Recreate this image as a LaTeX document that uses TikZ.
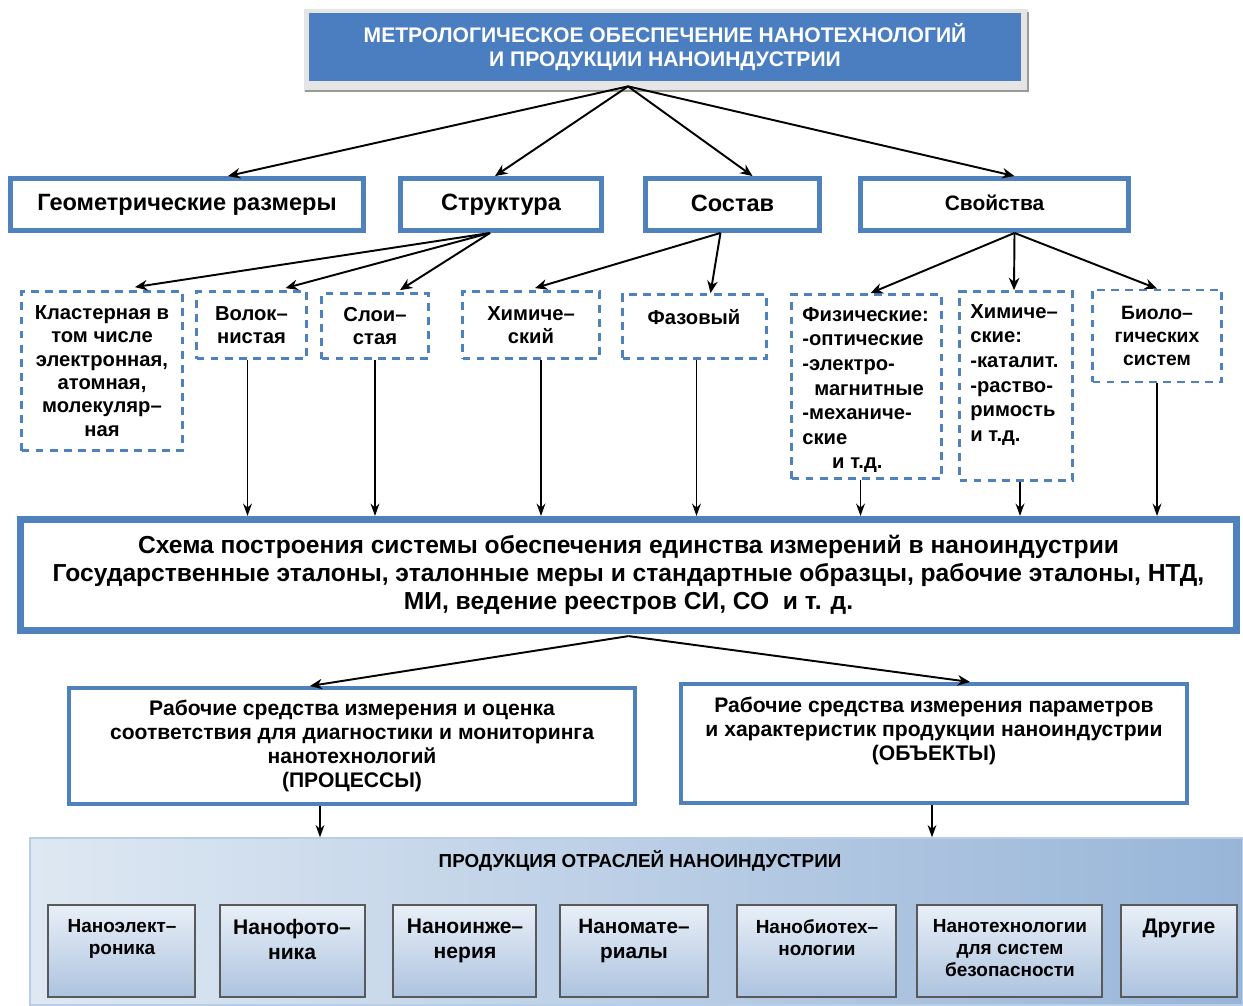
\documentclass[tikz,border=0pt]{standalone}
\usepackage{fontspec}
\setmainfont{Liberation Sans}
\usetikzlibrary{arrows.meta,calc}

\definecolor{boxblue}{RGB}{79,129,189}
\definecolor{titleblue}{RGB}{74,126,193}
\definecolor{panelL}{RGB}{222,232,243}
\definecolor{panelR}{RGB}{152,181,216}
\definecolor{cellT}{RGB}{233,239,247}
\definecolor{cellB}{RGB}{172,195,223}

\tikzset{
  wh/.style 2 args={minimum width=#1*0.02cm, minimum height=#2*0.02cm},
  solidbox/.style={draw=boxblue, line width=2.8pt, fill=white, inner sep=0pt,
    font=\bfseries\fontsize{13.4}{15}\selectfont},
  dashbox/.style={draw=boxblue, line width=1.6pt, dash pattern=on 4.5pt off 3.5pt,
    inner sep=0pt, align=center, font=\bfseries\fontsize{11.5}{13.3}\selectfont},
  listtxt/.style={inner sep=0pt, align=left, font=\bfseries\fontsize{11.5}{14}\selectfont},
  framebox/.style={draw=boxblue, line width=2.3pt, fill=white, inner sep=0pt, align=center,
    font=\bfseries\fontsize{12}{13.6}\selectfont},
  cell/.style={draw=black!65, line width=0.9pt, top color=cellT, bottom color=cellB, inner sep=0pt},
  celltxt/.style={inner sep=0pt, align=center, anchor=north},
  arr/.style={-{Stealth[length=7pt,width=6pt]}, line width=1.1pt},
  varr/.style={-{Stealth[length=7pt,width=5pt]}, line width=1pt},
}

\begin{document}
\begin{tikzpicture}[x=0.02cm, y=-0.02cm]

    \useasboundingbox (0,0) rectangle (1243,1005);

    % заголовок
    \fill[black!10] (304,9) rectangle (1028,92);
    \draw[black!40, line width=1pt] (305,91) -- (1028,91) -- (1028,12);
    \node[fill=titleblue, wh={712}{68}, text=white, align=center,
      font=\bfseries\fontsize{12}{14}\selectfont] (title) at (665,47)
      {МЕТРОЛОГИЧЕСКОЕ ОБЕСПЕЧЕНИЕ НАНОТЕХНОЛОГИЙ\\И ПРОДУКЦИИ НАНОИНДУСТРИИ};
    \coordinate (tfork) at ($(title.south)+(-37,5)$);

    % первый уровень
    \node[solidbox, wh={353}{52}] (geom) at (187,204.5) {Геометрические размеры};
    \node[solidbox, wh={201}{52}] (struct) at (501,204.5) {Структура};
    \node[solidbox, wh={174}{52}] (sost) at (732.5,204.5) {\raisebox{1pt}{Состав}};
    \node[solidbox, wh={268}{52}, font=\bfseries\fontsize{11.9}{14}\selectfont] (svoi) at (994.5,204.5)
      {\raisebox{2pt}{Свойства}};

    \draw[arr] (tfork) -- ($(geom.north)+(41,0)$);
    \draw[arr] (tfork) -- ($(struct.north)+(-6,0)$);
    \draw[arr] (tfork) -- ($(sost.north)+(20,0)$);
    \draw[arr] (tfork) -- ($(svoi.north)+(20,0)$);

    % второй уровень
    \node[dashbox, wh={161}{159}] (klast) at (102,371)
      {Кластерная в\\том числе\\электронная,\\атомная,\\молекуляр–\\ная};
    \node[dashbox, wh={110}{67}] (volok) at (251.5,325) {Волок–\\нистая};
    \node[dashbox, wh={107}{65}] (sloi) at (375,326) {Слои–\\стая};
    \node[dashbox, wh={137}{67}] (himS) at (531,325) {Химиче–\\ский};
    \node[dashbox, wh={144}{64}] (faz) at (694.5,326.5) {};
    \node[dashbox, anchor=north, draw=none] (fazT) at (694,308) {Фазовый};
    \node[dashbox, wh={150}{184}] (fiz) at (866.5,386.5) {};
    \node[listtxt, anchor=north west] (fizT) at (802,307)
      {Физические:\\-оптические\\-электро-\\\hspace*{6.8pt}магнитные\\-механиче-\\ские\\\hspace*{17pt}и т.д.};
    \node[dashbox, wh={113}{189}] (himP) at (1016,386) {};
    \node[listtxt, anchor=north west] (himPT) at (970,304)
      {Химиче–\\ские:\\-каталит.\\-раство-\\римость\\и т.д.};
    \node[dashbox, wh={129}{92}, font=\bfseries\fontsize{11}{13.3}\selectfont] (bio) at (1157,336)
      {Биоло–\\гических\\систем};

    \coordinate (sfork) at ($(struct.south)+(-11,0)$);
    \draw[arr] (sfork) -- ($(klast.north)+(33,-3)$);
    \draw[arr] (sfork) -- ($(volok.north)+(34,-2)$);
    \draw[arr] (sfork) -- ($(sloi.north)+(25,-2)$);
    \coordinate (cfork) at ($(sost.south)+(-12,0)$);
    \draw[arr] (cfork) -- ($(himS.north)+(4,-2)$);
    \draw[arr] (cfork) -- ($(faz.north)+(16,0)$);
    \coordinate (pfork) at ($(svoi.south)+(20,0)$);
    \draw[arr] (pfork) -- ($(fiz.north)+(4,0)$);
    \draw[arr] (pfork) -- ($(himP.north)+(-2,0)$);
    \draw[arr] (pfork) -- (bio.north);

    % схема
    \node[draw=boxblue, line width=3.5pt, fill=white, wh={1217}{112}, inner sep=0pt, align=center,
      font=\bfseries\fontsize{14}{15.9}\selectfont] (schema) at (628.5,575)
      {Схема построения системы обеспечения единства измерений в наноиндустрии\\
       Государственные эталоны, эталонные меры и стандартные образцы, рабочие эталоны, НТД,\\
       МИ, ведение реестров СИ, СО\ \ и т. д.};
    \draw[boxblue, line width=0.8pt] ($(schema.north west)+(6,6)$) rectangle ($(schema.south east)+(-6,-6)$);

    \coordinate (v1) at ($(volok.south)+(-4,0)$);
    \coordinate (v2) at (sloi.south);
    \coordinate (v3) at ($(himS.south)+(10,0)$);
    \coordinate (v4) at ($(faz.south)+(2,0)$);
    \coordinate (v5) at ($(fiz.south)+(-6,0)$);
    \coordinate (v6) at ($(himP.south)+(4,0)$);
    \coordinate (v7) at (bio.south);
    \draw[varr] (v1) -- (v1 |- schema.north);
    \draw[varr] (v2) -- (v2 |- schema.north);
    \draw[varr] (v3) -- (v3 |- schema.north);
    \draw[varr] (v4) -- (v4 |- schema.north);
    \draw[varr] (v5) -- (v5 |- schema.north);
    \draw[varr] (v6) -- (v6 |- schema.north);
    \draw[varr] (v7) -- (v7 |- schema.north);

    % процессы и объекты
    \node[framebox, wh={566}{116}] (proc) at (352,746)
      {Рабочие средства измерения и оценка\\соответствия для диагностики и мониторинга\\нанотехнологий\\(ПРОЦЕССЫ)};
    \node[framebox, wh={506}{119}] (obj) at (934,743.5) {};
    \node[framebox, draw=none, fill=none, anchor=north] (objT) at (934,695)
      {Рабочие средства измерения параметров\\и характеристик продукции наноиндустрии\\(ОБЪЕКТЫ)};

    \coordinate (mfork) at ($(schema.south)+(0,2)$);
    \draw[arr] (mfork) -- ($(proc.north)+(-42,0)$);
    \draw[arr] (mfork) -- ($(obj.north)+(36,0)$);

    % продукция
    \node[left color=panelL, right color=panelR, draw=boxblue!40, line width=0.8pt,
      wh={1213}{167}, inner sep=0pt] (panel) at (636.5,921.5) {};
    \node[inner sep=0pt, font=\bfseries\fontsize{10.7}{12}\selectfont] (ptitle) at (640,861)
      {ПРОДУКЦИЯ ОТРАСЛЕЙ НАНОИНДУСТРИИ};

    \coordinate (w1) at ($(proc.south)+(-32,0)$);
    \coordinate (w2) at ($(obj.south)+(-2,0)$);
    \draw[varr] (w1) -- (w1 |- panel.north);
    \draw[varr] (w2) -- (w2 |- panel.north);

    \node[cell, wh={147}{92}] (c1) at (121.5,951) {};
    \node[cell, wh={145}{92}] (c2) at (292.5,951) {};
    \node[cell, wh={143}{92}] (c3) at (464.5,951) {};
    \node[cell, wh={148}{92}] (c4) at (634,951) {};
    \node[cell, wh={159}{92}] (c5) at (816.5,951) {};
    \node[cell, wh={185}{92}] (c6) at (1009.5,951) {};
    \node[cell, wh={116}{92}] (c7) at (1179,951) {};

    \node[celltxt, font=\bfseries\fontsize{10.8}{12.5}\selectfont] (c1t) at (122,919) {Наноэлект–\\роника};
    \node[celltxt, font=\bfseries\fontsize{12}{14.2}\selectfont] (c2t) at (292,919) {Нанофото–\\ника};
    \node[celltxt, font=\bfseries\fontsize{12}{14.2}\selectfont] (c3t) at (465,919) {Наноинже–\\нерия};
    \node[celltxt, font=\bfseries\fontsize{11.8}{14.2}\selectfont] (c4t) at (634,919) {Наномате–\\риалы};
    \node[celltxt, font=\bfseries\fontsize{10.8}{12.5}\selectfont] (c5t) at (817,919) {Нанобиотех–\\нологии};
    \node[celltxt, font=\bfseries\fontsize{10.8}{12.5}\selectfont] (c6t) at (1010,919)
      {Нанотехнологии\\для систем\\безопасности};
    \node[celltxt, font=\bfseries\fontsize{12}{14}\selectfont] (c7t) at (1179,919) {Другие};

\end{tikzpicture}
\end{document}
